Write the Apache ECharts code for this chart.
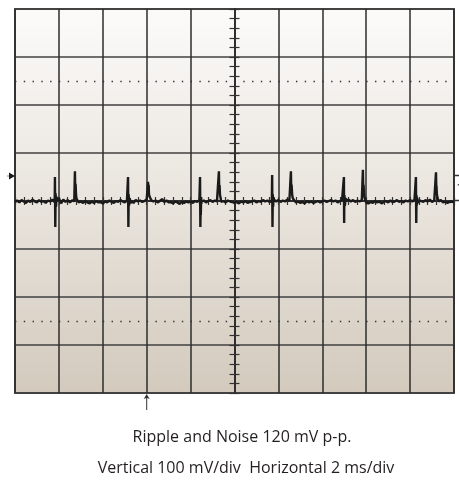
<!DOCTYPE html>
<html>
<head>
<meta charset="utf-8">
<script src="https://cdn.jsdelivr.net/npm/echarts@6/dist/echarts.min.js"></script>
<style>html,body{margin:0;padding:0;background:#fff;}#c{width:459px;height:484px;}</style>
</head>
<body>
<div id="c"></div>
<script>
// ---- data (time in ms relative to screen centre, voltage in mV) ----
const timeMinMs = -10, timeMaxMs = 10, timeDivMs = 2;
const voltMinMv = -400, voltMaxMv = 400, voltDivMv = 100;
const noiseStepMs = 0.1; // sampling step of the baseline trace
const noiseMv = [
  -2, 1, -3, 2, -1, -4, 1, -2, 3, -1, -3, 2, -2, 0, -4, 1, -1, 3, -2, 1,
  6, -5, 3, -2, 2, -3, 1, 0, 5, -3, -1, -4, 0, -3, -5, -1, -4, 0, -3, -2,
  -5, -1, -3, 1, -2, -4, 0, -2, 2, -1, -3, 1, -8, 0, -4, 2, -1, 1, -2, 0,
  3, 18, 2, -1, 1, -3, 0, 4, -2, 1, -3, -2, -5, -1, -3, -6, -2, -4, -1, -3,
  -1, -4, 0, -2, 2, -1, 1, -3, 0, 2, -2, 1, -1, 30, -2, 0, -3, 1, -1, -2,
  -4, -2, -5, -1, -3, 0, -4, -2, -1, 1, -3, 0, -2, 2, -1, 1, -2, 0, 3, -1,
  2, -2, 1, -1, 3, 0, 34, 2, -3, -1, -4, -2, -5, 0, -3, -1, -4, -2, 0, -3,
  -1, 1, -2, 0, 2, -1, 1, -3, 0, 2, -15, 1, 3, -1, 2, -2, 1, -1, 2, 14,
  -3, -5, -2, -4, 0, -3, -1, -5, -2, 0, -3, 1, -2, -1, 2, -2, 0, -3, 1, -1,
  2, -1, 3, -10, 1, 0, -2, 2, -1, 3, -2, 1, 32, -1, 2, -3, -1, -4, -2, -1,
  -3
];
const spikeTimesMs = [
  -8.19, -8.18, -8.165, -8.15, -8.13, -8.11,
  -7.28, -7.27, -7.255, -7.24, -7.22,
  -4.86, -4.85, -4.835, -4.82, -4.81, -4.77, -4.74,
  -3.95, -3.94, -3.925, -3.91, -3.89, -3.87,
  -1.58, -1.57, -1.555, -1.545, -1.535, -1.52, -1.51,
  -0.72, -0.71, -0.695, -0.68, -0.66, -0.63, -0.61,
  1.705, 1.715, 1.73, 1.745, 1.76, 1.78,
  2.56, 2.57, 2.585, 2.615, 2.63, 2.66,
  4.975, 4.985, 4.995, 5.01, 5.03, 5.06,
  5.84, 5.85, 5.865, 5.88, 5.92, 5.95,
  8.255, 8.265, 8.28, 8.295, 8.32, 8.35,
  9.17, 9.18, 9.195, 9.22, 9.25
];
const spikeMv = [
  4, 50, -54, 16, -12, 9,
  2, 62, 20, 36, 14,
  3, 50, -54, 14, -10, 6, -5,
  2, 40, 22, 34, 12, 8,
  3, 50, -54, -20, -29, 8, -6,
  2, 62, 20, 33, 12, 6, -2,
  4, 54, -54, 14, -12, 8,
  2, 62, 22, 30, 12, 5,
  3, 50, -46, 12, -10, 6,
  3, 65, 22, 34, 8, 3,
  3, 50, -46, 12, 7, -4,
  2, 60, 20, 14, 6
];
const dottedLevelsMv = [250, -250];
const triggerLevelMv = 52;
const triggerTimeMs = -4;
const channelMarkMv = 27;
const captionLines = ['Ripple and Noise 120 mV p-p.', 'Vertical 100 mV/div  Horizontal 2 ms/div'];

// ---- build trace table ----
const trace = noiseMv.map((v, i) => [+(timeMinMs + i * noiseStepMs).toFixed(3), v])
  .concat(spikeTimesMs.map((t, i) => [t, spikeMv[i]]))
  .sort((a, b) => a[0] - b[0]);

const gridLineColor = '#2c2c2c';
const tickStyle = { color: '#333', width: 1.2 };

function centerXAxis(pos) {
  return {
    type: 'value', min: timeMinMs, max: timeMaxMs, interval: timeDivMs, position: pos,
    axisLine: { show: true, onZero: true, onZeroAxisIndex: 0, lineStyle: { color: gridLineColor, width: 1.5 } },
    axisTick: { show: true, length: 4, lineStyle: tickStyle },
    minorTick: { show: true, splitNumber: 5, length: 4, lineStyle: tickStyle },
    axisLabel: { show: false }, splitLine: { show: false }
  };
}
function centerYAxis(pos) {
  return {
    type: 'value', min: voltMinMv, max: voltMaxMv, interval: voltDivMv, position: pos,
    axisLine: { show: true, onZero: true, onZeroAxisIndex: 0, lineStyle: { color: gridLineColor, width: 1.5 } },
    axisTick: { show: true, length: 5, lineStyle: tickStyle },
    minorTick: { show: true, splitNumber: 5, length: 5, lineStyle: tickStyle },
    axisLabel: { show: false }, splitLine: { show: false }
  };
}

const chart = echarts.init(document.getElementById('c'), null, { renderer: 'canvas' });
chart.setOption({
  animation: false,
  backgroundColor: '#ffffff',
  grid: {
    left: 15, top: 9, width: 439, height: 384, show: true,
    borderColor: '#4a4a4a', borderWidth: 2,
    backgroundColor: {
      type: 'linear', x: 0, y: 0, x2: 0, y2: 1,
      colorStops: [
        { offset: 0, color: '#fcfbfa' },
        { offset: 0.5, color: '#e9e4dd' },
        { offset: 1, color: '#d3cabd' }
      ]
    }
  },
  xAxis: [
    {
      type: 'value', min: timeMinMs, max: timeMaxMs, interval: timeDivMs, position: 'bottom',
      axisLine: { show: false, onZero: false }, axisTick: { show: false }, axisLabel: { show: false },
      splitLine: { show: true, lineStyle: { color: gridLineColor, width: 1.5 } }
    },
    centerXAxis('bottom'),
    centerXAxis('top')
  ],
  yAxis: [
    {
      type: 'value', min: voltMinMv, max: voltMaxMv, interval: voltDivMv, position: 'left',
      axisLine: { show: false, onZero: false }, axisTick: { show: false }, axisLabel: { show: false },
      splitLine: { show: true, lineStyle: { color: '#404040', width: 1.5 } }
    },
    centerYAxis('left'),
    centerYAxis('right')
  ],
  graphic: captionLines.map((txt, i) => ({
    type: 'text', x: i === 0 ? 242 : 246, y: i === 0 ? 445 : 476, silent: true,
    style: { text: txt, font: '16px "Open Sans"', fill: '#231f20', textAlign: 'center', textVerticalAlign: 'bottom' }
  })),
  series: [{
    type: 'line', xAxisIndex: 0, yAxisIndex: 0, data: trace,
    showSymbol: false, symbol: 'none', z: 5, clip: true,
    lineStyle: { color: '#1a1a1a', width: 2.4 },
    markLine: {
      silent: true, symbol: 'none', label: { show: false },
      lineStyle: { color: '#333', width: 1.4, type: [1.4, 7.38] },
      data: dottedLevelsMv.map(v => ({ yAxis: v }))
    },
    markPoint: {
      silent: true,
      data: [
        { coord: [timeMinMs, triggerLevelMv], symbol: 'path://M0,3.2 L2,3.2 L2,0 L8,3.5 L2,7 L2,3.8 L0,3.8 Z',
          symbolSize: [8, 7], symbolOffset: [-4, 0], itemStyle: { color: '#1a1a1a' }, label: { show: false } },
        { coord: [triggerTimeMs, voltMinMv], symbol: 'path://M3,0 L6,5 L3.5,4 L3.5,16 L2.5,16 L2.5,4 L0,5 Z',
          symbolSize: [6, 16], symbolOffset: [0, 9], itemStyle: { color: '#333' }, label: { show: false } },
        { coord: [timeMaxMs, channelMarkMv], symbol: 'path://M0,0 H5 V1.5 H0 Z M0,25 H5 V26.5 H0 Z',
          symbolSize: [5, 26.5], symbolOffset: [3, 0], itemStyle: { color: '#333' },
          label: { show: true, formatter: '1', position: 'inside', offset: [3, 0], color: '#222', fontSize: 13, fontFamily: 'Noto Sans' } }
      ]
    }
  }]
});
</script>
</body>
</html>
